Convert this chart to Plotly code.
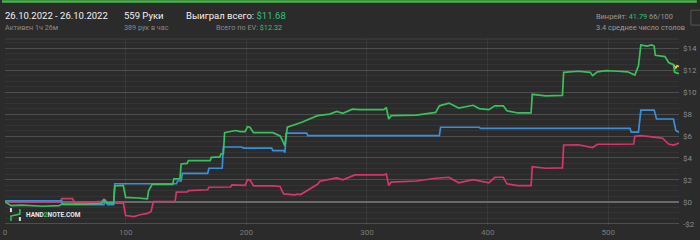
import plotly.graph_objects as go

# ---- data (hands, dollars) ----
green_x = [0, 5, 14, 31, 45, 47, 64, 80, 82, 84, 90, 91, 98, 100, 110, 118, 119, 122, 139, 140, 145, 146, 151, 152,
           170, 171, 178, 179, 181, 182, 191, 195, 199, 201, 203, 206, 222, 228, 230, 231, 232, 234, 240, 246, 259,
           269, 275, 280, 288, 294, 314, 316, 318, 320, 341, 357, 360, 368, 376, 388, 393, 401, 406, 413, 416, 425,
           436, 437, 448, 462, 463, 475, 485, 487, 491, 498, 508, 516, 522, 525, 527, 532, 536, 538, 539, 547, 550,
           554, 555, 559]
green_y = [0.0, -0.35, -0.3, -0.4, -0.35, -0.2, -0.2, -0.15, 0.15, -0.1, -0.1, 1.45, 1.5, 0.4, 0.35, 0.27, 1.0, 1.6,
           1.6, 2.1, 2.1, 3.45, 3.5, 3.75, 3.75, 4.05, 4.1, 4.36, 4.4, 6.3, 6.5, 6.4, 6.4, 6.85, 6.8, 6.3, 6.3, 6.0,
           5.6, 5.27, 5.1, 6.8, 7.0, 7.25, 7.85, 8.0, 8.24, 8.06, 8.45, 8.4, 8.4, 8.6, 7.55, 7.85, 7.9, 8.15, 8.75,
           9.0, 8.55, 8.8, 8.5, 8.4, 8.75, 8.75, 8.3, 8.1, 8.1, 9.8, 9.66, 9.7, 11.8, 11.9, 11.8, 11.5, 11.85, 11.95,
           11.9, 11.85, 11.55, 12.4, 14.3, 14.2, 14.3, 14.2, 13.36, 13.24, 12.7, 12.5, 11.8, 11.68]

blue_x = [0, 47, 48, 82, 83, 85, 90, 91, 142, 143, 146, 147, 168, 169, 180, 181, 196, 198, 221, 222, 231, 232, 233,
          250, 251, 360, 361, 393, 394, 518, 519, 525, 527, 538, 540, 554, 556, 559]
blue_y = [0.1, 0.1, -0.25, -0.25, 0.2, -0.25, -0.25, 1.65, 1.65, 1.9, 1.9, 2.6, 2.6, 3.06, 3.06, 5.0, 5.0, 4.9, 4.9,
          4.66, 4.66, 4.5, 6.27, 6.27, 6.03, 6.03, 6.8, 6.8, 6.7, 6.7, 6.35, 6.35, 8.36, 8.36, 7.55, 7.55, 6.5, 6.32]

red_x = [0, 46, 47, 56, 58, 72, 80, 82, 84, 88, 98, 100, 107, 111, 118, 121, 123, 141, 142, 151, 152, 168, 169, 187,
         188, 199, 201, 203, 206, 222, 228, 230, 231, 240, 242, 245, 253, 259, 261, 269, 275, 280, 290, 314, 316, 318,
         320, 341, 357, 368, 376, 388, 401, 406, 413, 416, 425, 436, 437, 448, 462, 463, 475, 487, 491, 508, 521, 522,
         527, 538, 545, 550, 554, 559]
red_y = [0.0, 0.0, 0.3, 0.3, -0.15, -0.05, 0.05, 0.25, 0.0, -0.15, -0.1, -1.25, -1.35, -1.2, -1.05, -0.9, 0.03, 0.03,
         0.88, 0.9, 1.03, 1.1, 1.33, 1.35, 1.55, 1.5, 2.03, 2.0, 1.45, 1.45, 1.4, 0.9, 0.73, 0.64, 0.7, 0.66, 1.18,
         1.6, 1.88, 2.05, 2.18, 2.0, 2.45, 2.45, 2.55, 1.5, 1.79, 1.9, 2.15, 2.24, 1.73, 2.03, 1.73, 2.24, 2.24, 1.64,
         1.48, 1.48, 3.2, 3.06, 3.1, 5.18, 5.2, 4.95, 5.25, 5.25, 5.27, 5.97, 6.03, 5.9, 5.8, 5.27, 5.18, 5.36]

ev_x = [554, 556, 557, 559]
ev_y = [12.5, 12.2, 12.4, 12.32]

x_ticks = [0, 100, 200, 300, 400, 500]
y_ticks = [-2, 0, 2, 4, 6, 8, 10, 12, 14]
y_tick_text = ["-$2", "$0", "$2", "$4", "$6", "$8", "$10", "$12", "$14"]

# ---- layout geometry ----
W, H = 700, 240
ML, MR, MT, MB = 3, 18, 39, 14
PW, PH = W - ML - MR, H - MT - MB

def px(x):
    return (x - ML) / PW

def py(y):
    return (H - MB - y) / PH

BG = "#2b2b2b"
GREEN = "#37c25c"
BLUE = "#3b8fd9"
RED = "#d8356b"
TXT_GREEN = "#2ec27e"

fig = go.Figure()
fig.add_trace(go.Scatter(x=red_x, y=red_y, mode="lines", line=dict(color=RED, width=1.7), hoverinfo="skip"))
fig.add_trace(go.Scatter(x=blue_x, y=blue_y, mode="lines", line=dict(color=BLUE, width=1.7), hoverinfo="skip"))
fig.add_trace(go.Scatter(x=ev_x, y=ev_y, mode="lines", line=dict(color="#e0d040", width=1.6), hoverinfo="skip"))
fig.add_trace(go.Scatter(x=green_x, y=green_y, mode="lines", line=dict(color=GREEN, width=1.7), hoverinfo="skip"))

font = "Roboto, Arial, sans-serif"
ann = []

def text(x, y, s, size, color, anchor="left"):
    ann.append(dict(x=px(x), y=py(y), xref="paper", yref="paper", text=s, showarrow=False,
                    xanchor=anchor, yanchor="middle", font=dict(family=font, size=size, color=color),
                    borderpad=0))

text(2, 15, "26.10.2022 - 26.10.2022", 9.5, "#f2f2f2")
text(2, 27, "Активен 1ч 26м", 7.2, "#8a8a8a")
text(122, 15, "559 Руки", 9.5, "#f2f2f2")
text(122, 27, "389 рук в час", 7.2, "#8a8a8a")
text(184, 15, f"Выиграл всего: <span style='color:{TXT_GREEN}'>$11.68</span>", 9.5, "#f2f2f2")
text(283, 27, f"Всего по EV: <span style='color:{TXT_GREEN}'>$12.32</span>", 7.3, "#8a8a8a", anchor="right")
text(597, 16, f"Винрейт: <span style='color:{TXT_GREEN}'>41.79</span> 66/100", 7.4, "#9a9a9a")
text(597, 27, "3.4 среднее число столов", 7.4, "#9a9a9a")
text(23, 216, f"<b>HAND<span style='color:{GREEN}'>2</span>NOTE.COM</b>", 6.5, "#e8e8e8")

shapes = [
    dict(type="rect", xref="paper", yref="paper", x0=px(0), x1=px(700), y0=py(0), y1=py(2.5),
         fillcolor="#45b649", line=dict(width=0), layer="above"),
    dict(type="rect", xref="paper", yref="paper", x0=px(694), x1=px(706), y0=py(10), y1=py(25),
         fillcolor="rgba(0,0,0,0)", line=dict(color="#555", width=1)),
    # logo
    dict(type="path", xref="paper", yref="paper",
         path=f"M {px(9)} {py(222)} L {px(9)} {py(217)} L {px(18)} {py(215)} L {px(18)} {py(210)}",
         line=dict(color=GREEN, width=1.5)),
    dict(type="rect", xref="paper", yref="paper", x0=px(8), x1=px(10), y0=py(209), y1=py(213),
         fillcolor="#dddddd", line=dict(width=0)),
    dict(type="rect", xref="paper", yref="paper", x0=px(17), x1=px(19), y0=py(218), y1=py(222),
         fillcolor="#dddddd", line=dict(width=0)),
    dict(type="line", xref="paper", yref="paper", x0=0, x1=1, y0=1, y1=1,
         line=dict(color="rgba(255,255,255,0.10)", width=1)),
]

fig.update_layout(
    width=W, height=H,
    margin=dict(l=ML, r=MR, t=MT, b=MB, pad=0),
    paper_bgcolor=BG, plot_bgcolor=BG,
    showlegend=False,
    annotations=ann, shapes=shapes,
    xaxis=dict(range=[0, 558.6], tickvals=x_ticks, showgrid=True, gridcolor="rgba(255,255,255,0.06)",
               gridwidth=1, zeroline=False, showline=False, ticks="",
               tickfont=dict(family=font, size=8, color="#7a7a7a"), ticklabelstandoff=1),
    yaxis=dict(range=[-2.11, 14.84], side="right", tickvals=y_ticks, ticktext=y_tick_text,
               showgrid=True, gridcolor="rgba(255,255,255,0.13)", gridwidth=1,
               zeroline=True, zerolinecolor="#6a6a6a", zerolinewidth=2,
               showline=False, ticks="",
               tickfont=dict(family=font, size=8, color="#8a8a8a"), ticklabelstandoff=3,
               minor=dict(dtick=0.5, tick0=0, showgrid=True, gridcolor="rgba(255,255,255,0.045)",
                          gridwidth=1)),
)

fig.write_html("out.html")
